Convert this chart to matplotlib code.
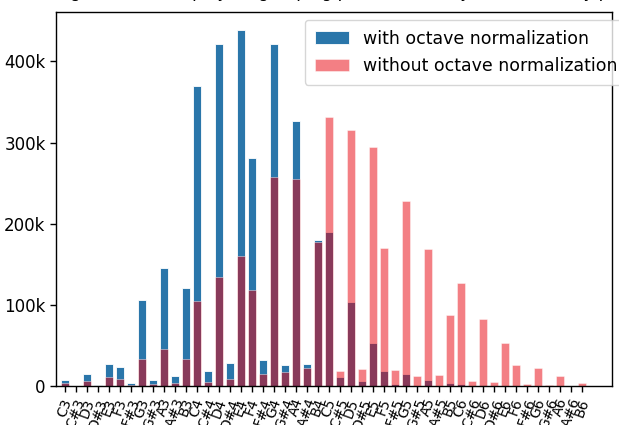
import matplotlib
matplotlib.use("Agg")
import matplotlib.pyplot as plt
import numpy as np

notes = ["C3", "C#3", "D3", "D#3", "E3", "F3", "F#3", "G3", "G#3", "A3", "A#3", "B3",
         "C4", "C#4", "D4", "D#4", "E4", "F4", "F#4", "G4", "G#4", "A4", "A#4", "B4",
         "C5", "C#5", "D5", "D#5", "E5", "F5", "F#5", "G5", "G#5", "A5", "A#5", "B5",
         "C6", "C#6", "D6", "D#6", "E6", "F6", "F#6", "G6", "G#6", "A6", "A#6", "B6"]

with_norm = [8000, 0, 15000, 1000, 27000, 23000, 4000, 106000, 7000, 146000, 12700, 121000,
             370000, 19000, 422000, 28000, 439000, 281000, 32500, 422000, 25500, 327000, 27500, 180000,
             190000, 10700, 103000, 6000, 52700, 18500, 2000, 14800, 500, 7000, 300, 3700,
             2900, 0, 1000, 0, 500, 0, 0, 0, 0, 0, 0, 0]

without_norm = [4000, 0, 6500, 500, 11000, 9000, 1000, 33000, 2500, 45500, 3500, 33000,
                105000, 5500, 134000, 8600, 160000, 118000, 15000, 257000, 17000, 255000, 22600, 178000,
                332000, 18000, 315000, 21000, 294000, 170000, 19800, 228000, 12700, 168700, 13600, 87600,
                127000, 6000, 82000, 4500, 53000, 25500, 3000, 21800, 800, 12000, 500, 4000]

ytick_vals = [0, 100000, 200000, 300000, 400000]
ytick_labels = ["0", "100k", "200k", "300k", "400k"]

title = "Histogram of notes played, grouping pitch classes by octave and by pitch"

W, H = 619, 425
fig = plt.figure(figsize=(W / 100, H / 100), dpi=100)
ax = fig.add_axes([56 / W, 1 - 386 / H, (612 - 56) / W, (386 - 12) / H])

x = np.arange(len(notes))
ax.bar(x, with_norm, width=0.8, color="#2a76aa", edgecolor="white", linewidth=0.6,
       label="with octave normalization")
ax.bar(x, without_norm, width=0.8, color="#e8000b", alpha=0.5, edgecolor="white", linewidth=0.6,
       label="without octave normalization")

ax.set_xlim(-0.82, 49.73)
ax.set_ylim(0, max(max(with_norm), max(without_norm)) * 1.05)
ax.set_xticks(x)
ax.set_xticklabels(notes, rotation=70, fontsize=10)
ax.set_yticks(ytick_vals)
ax.set_yticklabels(ytick_labels, fontsize=12)
ax.tick_params(axis="both", length=4, width=1)
for s in ax.spines.values():
    s.set_linewidth(1)

ax.legend(loc="upper left", bbox_to_anchor=(305 / W, 1 - 20 / H), bbox_transform=fig.transFigure,
          fontsize=12.5, borderaxespad=0, borderpad=0.55, labelspacing=0.55)

fig.text((56 + 612) / 2 / W, 1.0 + 3 / H, title, ha="center", va="baseline", fontsize=12)

fig.savefig("out.png", dpi=100)
